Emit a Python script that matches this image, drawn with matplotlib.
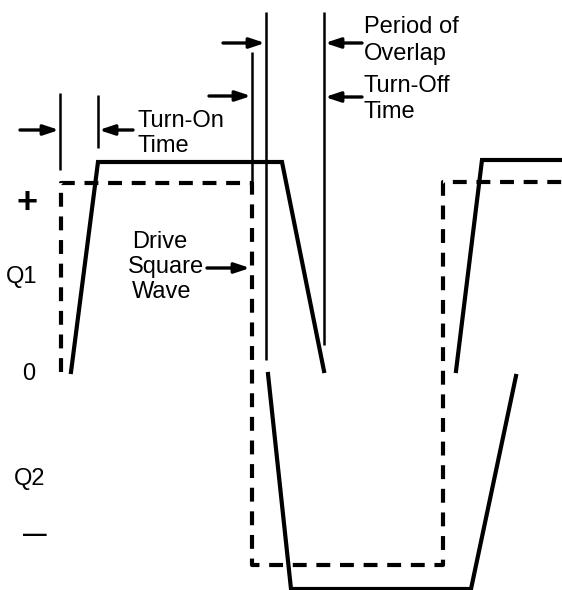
import matplotlib
matplotlib.use('Agg')
import matplotlib.pyplot as plt

plt.rcParams['font.family'] = ['Liberation Sans', 'DejaVu Sans']
plt.rcParams['lines.scale_dashes'] = False

# waveform vertices (pixel units, y grows downward)
q1_x = [71, 98, 282, 324]
q1_y = [372, 162, 162, 371]
q1b_x = [456, 482, 562]
q1b_y = [371, 160, 160]
q2_x = [268, 291, 471, 516]
q2_y = [374, 589, 589, 376]
drive_x = [61, 61, 252, 252, 443, 443, 562]
drive_y = [372, 183, 183, 565, 565, 182, 182]

# timing marker lines: x, top, bottom
mark_x = [60, 98, 252, 266, 324]
mark_top = [93, 95, 52, 12, 12]
mark_bot = [170, 148, 183, 360, 345]

# arrows: tail x, head x, y
arrow_from = [20, 133, 223, 209, 362, 362, 207]
arrow_to = [59, 99, 265, 251, 325, 325, 250]
arrow_y = [130, 130, 43, 96, 43, 97, 268]

labels = ['Turn-On', 'Time', 'Period of', 'Overlap', 'Turn-Off', 'Time',
          'Drive', 'Square', 'Wave']
label_x = [137, 137, 364, 364, 364, 364, 132, 128, 132]
label_y = [127, 152, 33, 60, 92, 118, 248, 273, 298]

fig = plt.figure(figsize=(5.62, 5.90), dpi=100)
ax = fig.add_axes([0, 0, 1, 1])
ax.set_xlim(0, 562)
ax.set_ylim(590, 0)
ax.axis('off')

ax.plot(drive_x, drive_y, color='black', lw=3.0, dashes=(10, 7),
        solid_joinstyle='miter', dash_capstyle='butt')
ax.plot(q1_x, q1_y, color='black', lw=3.0, solid_joinstyle='miter')
ax.plot(q1b_x, q1b_y, color='black', lw=3.0, solid_joinstyle='miter')
ax.plot(q2_x, q2_y, color='black', lw=3.0, solid_joinstyle='miter')

ax.vlines(mark_x, mark_top, mark_bot, color='black', lw=1.8)

for x0, x1, y in zip(arrow_from, arrow_to, arrow_y):
    ax.annotate('', xy=(x1, y), xytext=(x0, y),
                arrowprops=dict(arrowstyle='-|>,head_length=0.9,head_width=0.3',
                                color='black', lw=2.4, shrinkA=0, shrinkB=0))

for s, x, y in zip(labels, label_x, label_y):
    ax.text(x, y, s, fontsize=17, ha='left', va='baseline')

ax.text(27, 203, '+', fontsize=26, fontweight='bold', ha='center', va='center')
ax.text(22, 283, 'Q1', fontsize=17, ha='center', va='baseline')
ax.text(29, 380, '0', fontsize=17, ha='center', va='baseline')
ax.text(30, 485, 'Q2', fontsize=17, ha='center', va='baseline')
ax.text(35, 534, '—', fontsize=17, fontweight='bold', ha='center', va='center')

fig.savefig('out.png', dpi=100)
